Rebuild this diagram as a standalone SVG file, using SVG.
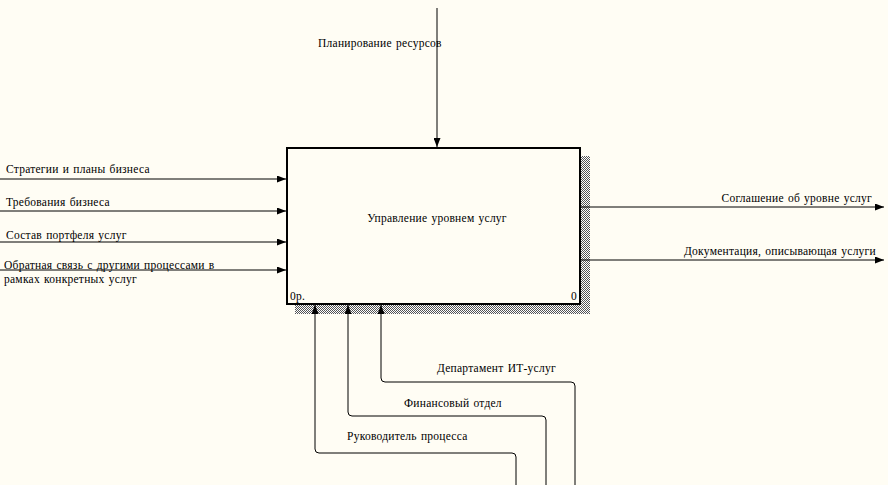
<svg xmlns="http://www.w3.org/2000/svg" width="888" height="485" viewBox="0 0 888 485">
<defs>
<style>
.t{font-family:"Liberation Serif","Times New Roman",serif;font-size:11.5px;letter-spacing:0.25px;word-spacing:1px;fill:#000}
.l{fill:none;stroke:#000;stroke-width:1}
</style>
<marker id="ah" markerWidth="9" markerHeight="7" refX="9" refY="3.5" orient="auto" markerUnits="userSpaceOnUse">
<path d="M0,0 L9,3.5 L0,7 Z" fill="#000"/>
</marker>
<pattern id="hatch" width="2" height="2" patternUnits="userSpaceOnUse">
<rect width="2" height="2" fill="#fff"/>
<rect width="1" height="1" fill="#555"/>
<rect x="1" y="1" width="1" height="1" fill="#555"/>
</pattern>
</defs>
<rect width="888" height="485" fill="#FFFDF4"/>
<g id="node-0">
<rect x="581" y="156" width="9" height="158" fill="url(#hatch)"/>
<rect x="295" y="305" width="295" height="9" fill="url(#hatch)"/>
<rect x="287" y="148" width="293" height="156" fill="#FFFDF4" stroke="#000" stroke-width="2"/>
<text class="t" x="437" y="222" text-anchor="middle">Управление уровнем услуг</text>
<text class="t" x="290" y="300">0р.</text>
<text class="t" x="577" y="300" text-anchor="end">0</text>
</g>
<g id="connectors">
<path class="l" d="M437,8 V147" marker-end="url(#ah)"/>
<text class="t" x="318" y="47">Планирование ресурсов</text>
<path class="l" d="M0,179 H286" marker-end="url(#ah)"/>
<text class="t" x="6" y="173">Стратегии и планы бизнеса</text>
<path class="l" d="M0,211 H286" marker-end="url(#ah)"/>
<text class="t" x="6" y="206">Требования бизнеса</text>
<path class="l" d="M0,242 H286" marker-end="url(#ah)"/>
<text class="t" x="6" y="239">Состав портфеля услуг</text>
<path class="l" d="M0,270 H286" marker-end="url(#ah)"/>
<text class="t" x="4" y="269">Обратная связь с другими процессами в</text>
<text class="t" x="4" y="283">рамках конкретных услуг</text>
<path class="l" d="M581,207 H884" marker-end="url(#ah)"/>
<text class="t" x="872" y="202" text-anchor="end">Соглашение об уровне услуг</text>
<path class="l" d="M581,260 H884" marker-end="url(#ah)"/>
<text class="t" x="876" y="255" text-anchor="end">Документация, описывающая услуги</text>
<path class="l" d="M575,485 V386 Q575,382 571,382 H385 Q381,382 381,378 V305" marker-end="url(#ah)"/>
<text class="t" x="437" y="372">Департамент ИТ-услуг</text>
<path class="l" d="M546,485 V420 Q546,416 542,416 H352 Q348,416 348,412 V305" marker-end="url(#ah)"/>
<text class="t" x="404" y="407">Финансовый отдел</text>
<path class="l" d="M516,485 V457 Q516,453 512,453 H319 Q315,453 315,449 V305" marker-end="url(#ah)"/>
<text class="t" x="347" y="440">Руководитель процесса</text>
</g>
</svg>
